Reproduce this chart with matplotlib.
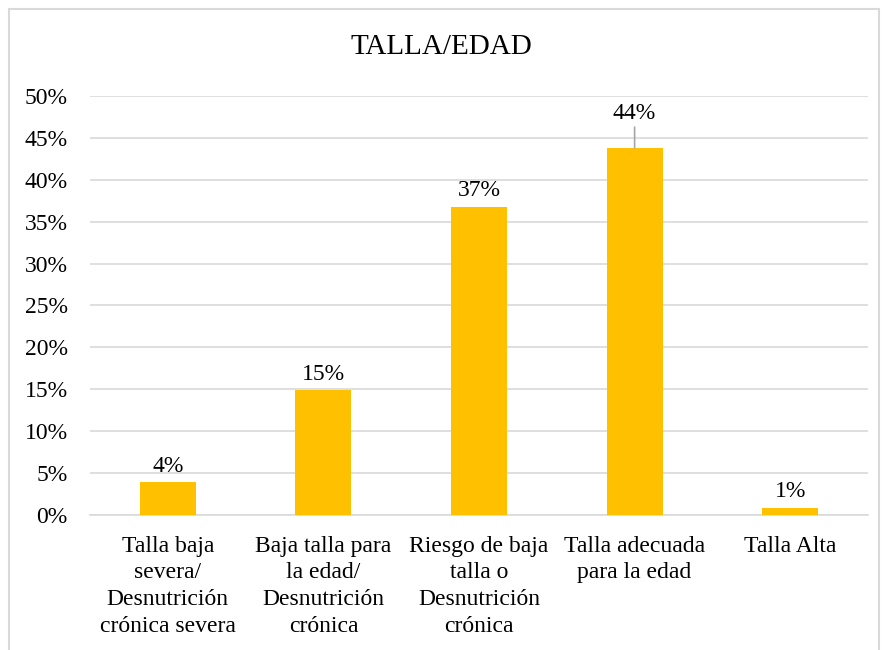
import matplotlib.pyplot as plt
import matplotlib.ticker as mtick
from matplotlib.patches import Rectangle

plt.rcParams['font.family'] = ['Liberation Serif', 'DejaVu Serif']

categories = ['Talla baja\nsevera/\nDesnutrición\ncrónica severa',
              'Baja talla para\nla edad/\nDesnutrición\ncrónica',
              'Riesgo de baja\ntalla o\nDesnutrición\ncrónica',
              'Talla adecuada\npara la edad',
              'Talla Alta']
values = [0.039, 0.149, 0.3675, 0.438, 0.0085]
labels = ['4%', '15%', '37%', '44%', '1%']

fig = plt.figure(figsize=(8.83, 6.5), dpi=100)
ax = fig.add_axes([90 / 883, 1 - 515 / 650, 778 / 883, 419 / 650])

x = range(len(categories))
bars = ax.bar(x, values, width=0.36, color='#FFC000', zorder=3)

ax.set_ylim(0, 0.5)
ax.set_xlim(-0.5, len(categories) - 0.5)
ax.yaxis.set_major_locator(mtick.MultipleLocator(0.05))
ax.yaxis.set_major_formatter(mtick.PercentFormatter(xmax=1.0, decimals=0))
ax.grid(axis='y', color='#D9D9D9', linewidth=1.2, zorder=0)
for s in ['top', 'right', 'left']:
    ax.spines[s].set_visible(False)
ax.spines['bottom'].set_color('#D9D9D9')
ax.spines['bottom'].set_linewidth(1.2)
ax.tick_params(axis='both', length=0, labelsize=17, colors='#000000')
ax.tick_params(axis='y', pad=16)
ax.tick_params(axis='x', pad=15)
ax.set_xticks(list(x))
ax.set_xticklabels(categories, fontsize=17, linespacing=1.35)

# data labels (the 44% one sits higher with a leader line)
for i, (v, lab) in enumerate(zip(values, labels)):
    if i == 3:
        ax.annotate(lab, xy=(i, v), xytext=(0, 17), textcoords='offset points',
                    ha='center', va='bottom', fontsize=17,
                    arrowprops=dict(arrowstyle='-', color='#A6A6A6', lw=1.2,
                                    shrinkA=0, shrinkB=0))
    else:
        ax.annotate(lab, xy=(i, v), xytext=(0, 4), textcoords='offset points',
                    ha='center', va='bottom', fontsize=17)

fig.text(0.5, 1 - 47 / 650, 'TALLA/EDAD', ha='center', va='center', fontsize=21)

# chart area border
fig.patches.append(Rectangle((9 / 883, -0.01), 870 / 883, 1 - 9 / 650 + 0.01,
                             transform=fig.transFigure, fill=False,
                             edgecolor='#D9D9D9', linewidth=1.5))

plt.savefig('out.png', dpi=100)
